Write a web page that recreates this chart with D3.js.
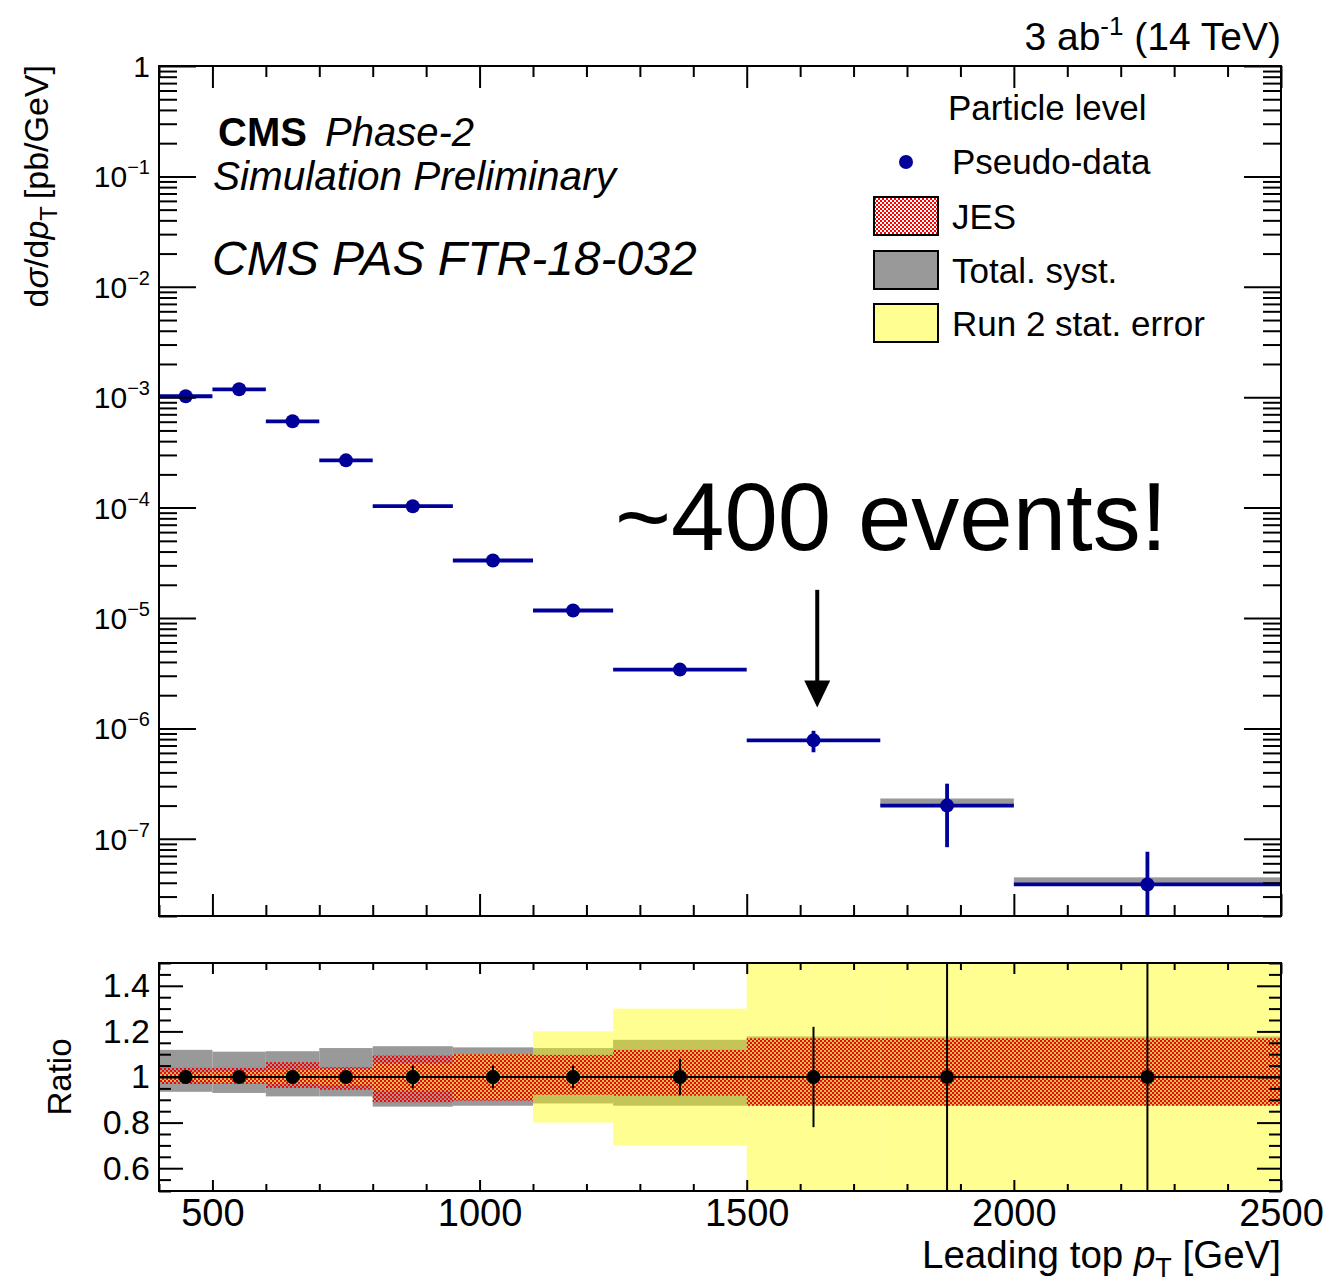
<!DOCTYPE html>
<html>
<head>
<meta charset="utf-8">
<script src="https://cdn.jsdelivr.net/npm/d3@7"></script>
<style>
  body { margin: 0; background: #fff; }
  svg { display: block; }
  text { font-family: "Liberation Sans", Arial, Helvetica, sans-serif; fill: #000; }
</style>
</head>
<body>
<svg id="chart" width="1331" height="1286"></svg>
<script>
// ---- data: leading top pT spectrum, 3 ab^-1 projection ----
const binEdges = [400, 500, 600, 700, 800, 950, 1100, 1250, 1500, 1750, 2000, 2500];
// pseudo-data dsigma/dpT [pb/GeV]
const xsec = [1.02e-3, 1.18e-3, 6.05e-4, 2.68e-4, 1.03e-4, 3.32e-5, 1.17e-5, 3.41e-6, 7.8e-7, 2.0e-7, 3.86e-8];
// relative statistical uncertainty of the pseudo-data
const dataErr = [0.01, 0.012, 0.015, 0.02, 0.05, 0.05, 0.05, 0.08, 0.22, 0.58, 0.98];
// relative total systematic uncertainty (up / down)
const systUp = [0.119, 0.111, 0.113, 0.127, 0.135, 0.130, 0.127, 0.163, 0.178, 0.178, 0.178];
const systDn = [0.065, 0.070, 0.085, 0.085, 0.130, 0.126, 0.116, 0.126, 0.126, 0.126, 0.126];
// relative jet energy scale uncertainty (up / down)
const jesUp = [0.040, 0.040, 0.065, 0.043, 0.094, 0.100, 0.097, 0.119, 0.170, 0.170, 0.170];
const jesDn = [0.031, 0.030, 0.048, 0.056, 0.111, 0.104, 0.078, 0.082, 0.126, 0.126, 0.126];
// relative Run 2 statistical uncertainty
const statRun2 = [0.020, 0.025, 0.030, 0.035, 0.060, 0.100, 0.200, 0.300, 0.800, 1.200, 2.000];
// upper edge of the systematic band shown in the spectrum panel
const spectrumBandUp = [0, 0, 0, 0, 0, 0, 0, 0, 0, 0.16, 0.16];

const xMajorTicks = [500, 1000, 1500, 2000, 2500];
const ratioMajorTicks = [0.6, 0.8, 1.0, 1.2, 1.4];
const logDecades = [-7, -6, -5, -4, -3, -2, -1, 0];

const legendEntries = ["Pseudo-data", "JES", "Total. syst.", "Run 2 stat. error"];

// ---- layout ----
const L = 159, R = 1281, T1 = 66, B1 = 916, T2 = 963, B2 = 1191;
const svg = d3.select("#chart");

const x = d3.scaleLinear().domain([400, 2500]).range([L, R]);
const y = d3.scaleLog().domain([2e-8, 1]).range([B1, T1]);
const yr = d3.scaleLinear().domain([0.5, 1.5]).range([B2, T2]);

const bins = xsec.map((v, i) => ({
  lo: binEdges[i], hi: binEdges[i + 1], c: (binEdges[i] + binEdges[i + 1]) / 2,
  v, err: dataErr[i], sUp: systUp[i], sDn: systDn[i], jUp: jesUp[i], jDn: jesDn[i],
  st: statRun2[i], bUp: spectrumBandUp[i]
}));

const defs = svg.append("defs");
const pat = defs.append("pattern").attr("id", "jesPattern")
  .attr("width", 4).attr("height", 4).attr("patternUnits", "userSpaceOnUse");
pat.append("rect").attr("x", 0).attr("y", 0).attr("width", 2).attr("height", 2).attr("fill", "#ff0000");
pat.append("rect").attr("x", 2).attr("y", 2).attr("width", 2).attr("height", 2).attr("fill", "#ff0000");

defs.append("clipPath").attr("id", "clipTop").append("rect")
  .attr("x", L).attr("y", T1).attr("width", R - L).attr("height", B1 - T1);
defs.append("clipPath").attr("id", "clipRatio").append("rect")
  .attr("x", L).attr("y", T2).attr("width", R - L).attr("height", B2 - T2);

// ---- tick helper ----
function ticks(g, axis, values, size) {
  g.call(axis.tickValues(values).tickSizeInner(-size).tickSizeOuter(0).tickFormat(""));
  g.select(".domain").remove();
  g.selectAll("line").attr("stroke", "#000").attr("stroke-width", 2);
}
const xAll = d3.range(400, 2501, 100);
const xMinor = xAll.filter(v => !xMajorTicks.includes(v));

// ================= spectrum panel =================
const specPanel = svg.append("g");
const specPlot = specPanel.append("g").attr("clip-path", "url(#clipTop)");

// systematic band
specPlot.selectAll("rect.band").data(bins.filter(b => b.bUp > 0)).join("rect")
  .attr("x", b => x(b.lo)).attr("width", b => x(b.hi) - x(b.lo))
  .attr("y", b => y(b.v * (1 + b.bUp))).attr("height", b => y(b.v) - y(b.v * (1 + b.bUp)))
  .attr("fill", "#999999");

const blue = "#000099";
specPlot.selectAll("line.hbar").data(bins).join("line")
  .attr("x1", b => x(b.lo)).attr("x2", b => x(b.hi))
  .attr("y1", b => y(b.v)).attr("y2", b => y(b.v))
  .attr("stroke", blue).attr("stroke-width", 3.8);
specPlot.selectAll("line.vbar").data(bins).join("line")
  .attr("x1", b => x(b.c)).attr("x2", b => x(b.c))
  .attr("y1", b => y(b.v * (1 + b.err)))
  .attr("y2", b => (b.err >= 1 ? B1 + 5 : y(b.v * (1 - b.err))))
  .attr("stroke", blue).attr("stroke-width", 3.8);
specPlot.selectAll("circle").data(bins).join("circle")
  .attr("cx", b => x(b.c)).attr("cy", b => y(b.v)).attr("r", 7).attr("fill", blue);

// axes ticks for spectrum panel
ticks(specPanel.append("g").attr("transform", `translate(0,${B1})`), d3.axisBottom(x), xMajorTicks, 22);
ticks(specPanel.append("g").attr("transform", `translate(0,${B1})`), d3.axisBottom(x), xMinor, 11);
ticks(specPanel.append("g").attr("transform", `translate(0,${T1})`), d3.axisTop(x), xMajorTicks, 22);
ticks(specPanel.append("g").attr("transform", `translate(0,${T1})`), d3.axisTop(x), xMinor, 11);

const logMajor = logDecades.map(k => Math.pow(10, k));
const logMinor = [];
for (let k = -8; k < 0; k++) for (let m = 2; m <= 9; m++) {
  const v = m * Math.pow(10, k);
  if (v >= 2e-8 && v <= 1) logMinor.push(v);
}
ticks(specPanel.append("g").attr("transform", `translate(${L},0)`), d3.axisLeft(y), logMajor, 37);
ticks(specPanel.append("g").attr("transform", `translate(${L},0)`), d3.axisLeft(y), logMinor, 18);
ticks(specPanel.append("g").attr("transform", `translate(${R},0)`), d3.axisRight(y), logMajor, 37);
ticks(specPanel.append("g").attr("transform", `translate(${R},0)`), d3.axisRight(y), logMinor, 18);

specPanel.append("rect").attr("x", L).attr("y", T1).attr("width", R - L).attr("height", B1 - T1)
  .attr("fill", "none").attr("stroke", "#000").attr("stroke-width", 2);

// log tick labels
logDecades.forEach(k => {
  const t = specPanel.append("text").attr("x", 150).attr("y", y(Math.pow(10, k)) + 11)
    .attr("text-anchor", "end").attr("font-size", 30);
  if (k === 0) {
    t.text("1");
  } else {
    t.append("tspan").text("10");
    t.append("tspan").attr("font-size", 20).attr("dy", -13).text("\u2212" + (-k));
  }
});

// y title
const yt = specPanel.append("text").attr("transform", `translate(48,65) rotate(-90)`)
  .attr("text-anchor", "end").attr("font-size", 34);
yt.append("tspan").text("d");
yt.append("tspan").attr("font-style", "italic").text("\u03c3");
yt.append("tspan").text("/d");
yt.append("tspan").attr("font-style", "italic").text("p");
yt.append("tspan").attr("font-size", 24).attr("dy", 9).text("T");
yt.append("tspan").attr("dy", -9).text("\u2009[pb/GeV]");

// luminosity label
const lumi = svg.append("text").attr("x", R).attr("y", 50).attr("text-anchor", "end").attr("font-size", 39);
lumi.append("tspan").text("3 ab");
lumi.append("tspan").attr("font-size", 26).attr("dy", -15).text("-1");
lumi.append("tspan").attr("dy", 15).text(" (14 TeV)");

// experiment labels
svg.append("text").attr("x", 218).attr("y", 146).attr("font-size", 40).attr("font-weight", "bold").text("CMS");
svg.append("text").attr("x", 325).attr("y", 146).attr("font-size", 40).attr("font-style", "italic").text("Phase-2");
svg.append("text").attr("x", 213).attr("y", 190).attr("font-size", 40.5).attr("font-style", "italic").text("Simulation Preliminary");
svg.append("text").attr("x", 212).attr("y", 275).attr("font-size", 48).attr("font-style", "italic").text("CMS PAS FTR-18-032");

// legend
const lg = svg.append("g");
lg.append("text").attr("x", 948).attr("y", 120).attr("font-size", 35).text("Particle level");
lg.append("circle").attr("cx", 906).attr("cy", 162).attr("r", 7).attr("fill", blue);
lg.append("text").attr("x", 952).attr("y", 174).attr("font-size", 35).text(legendEntries[0]);
const boxFills = [null, "#999999", "#ffff91"];
[197, 251, 304].forEach((by, i) => {
  if (i === 0) {
    lg.append("rect").attr("x", 874).attr("y", by).attr("width", 64).attr("height", 38).attr("fill", "#fff");
    lg.append("rect").attr("x", 874).attr("y", by).attr("width", 64).attr("height", 38)
      .attr("fill", "url(#jesPattern)").attr("stroke", "#000").attr("stroke-width", 2);
  } else {
    lg.append("rect").attr("x", 874).attr("y", by).attr("width", 64).attr("height", 38)
      .attr("fill", boxFills[i]).attr("stroke", "#000").attr("stroke-width", 2);
  }
  lg.append("text").attr("x", 952).attr("y", by + 32).attr("font-size", 35).text(legendEntries[i + 1]);
});

// annotation
svg.append("text").attr("x", 615).attr("y", 550).attr("font-size", 96)
  .attr("font-family", "Roboto, 'Open Sans', sans-serif").attr("font-weight", 300)
  .text("~400 events!");
const arrowX = x(1632);
svg.append("line").attr("x1", arrowX).attr("x2", arrowX).attr("y1", y(1.8e-5)).attr("y2", y(1.55e-6) - 24)
  .attr("stroke", "#000").attr("stroke-width", 4);
svg.append("path")
  .attr("d", `M${arrowX - 13},${y(1.55e-6) - 27} L${arrowX + 13},${y(1.55e-6) - 27} L${arrowX},${y(1.55e-6)} Z`)
  .attr("fill", "#000");

// ================= ratio panel =================
const rp = svg.append("g");
const rPlot = rp.append("g").attr("clip-path", "url(#clipRatio)");

// total systematic
rPlot.selectAll("rect.syst").data(bins).join("rect")
  .attr("x", b => x(b.lo)).attr("width", b => x(b.hi) - x(b.lo))
  .attr("y", b => yr(1 + b.sUp)).attr("height", b => yr(1 - b.sDn) - yr(1 + b.sUp))
  .attr("fill", "#999999");
// Run 2 statistical uncertainty
rPlot.selectAll("rect.stat").data(bins).join("rect")
  .attr("x", b => x(b.lo)).attr("width", b => x(b.hi) - x(b.lo))
  .attr("y", b => yr(1 + b.st)).attr("height", b => yr(1 - b.st) - yr(1 + b.st))
  .attr("fill", "#ffff00").attr("fill-opacity", 0.43);
// JES
rPlot.selectAll("rect.jes").data(bins).join("rect")
  .attr("x", b => x(b.lo)).attr("width", b => x(b.hi) - x(b.lo))
  .attr("y", b => yr(1 + b.jUp)).attr("height", b => yr(1 - b.jDn) - yr(1 + b.jUp))
  .attr("fill", "url(#jesPattern)");

// ratio points
rPlot.selectAll("line.rh").data(bins).join("line")
  .attr("x1", b => x(b.lo)).attr("x2", b => x(b.hi))
  .attr("y1", yr(1)).attr("y2", yr(1))
  .attr("stroke", "#000").attr("stroke-width", 2);
rPlot.selectAll("line.rv").data(bins).join("line")
  .attr("x1", b => x(b.c)).attr("x2", b => x(b.c))
  .attr("y1", b => yr(1 + b.err)).attr("y2", b => yr(1 - b.err))
  .attr("stroke", "#000").attr("stroke-width", 2);
rPlot.selectAll("circle").data(bins).join("circle")
  .attr("cx", b => x(b.c)).attr("cy", yr(1)).attr("r", 7).attr("fill", "#000");

const rAll = d3.range(0, 21).map(i => +(0.5 + i * 0.05).toFixed(2));
const rMinor = rAll.filter(v => !ratioMajorTicks.some(m => Math.abs(m - v) < 1e-6));
ticks(rp.append("g").attr("transform", `translate(${L},0)`), d3.axisLeft(yr), ratioMajorTicks, 24);
ticks(rp.append("g").attr("transform", `translate(${L},0)`), d3.axisLeft(yr), rMinor, 12);
ticks(rp.append("g").attr("transform", `translate(${R},0)`), d3.axisRight(yr), ratioMajorTicks, 24);
ticks(rp.append("g").attr("transform", `translate(${R},0)`), d3.axisRight(yr), rMinor, 12);
ticks(rp.append("g").attr("transform", `translate(0,${B2})`), d3.axisBottom(x), xMajorTicks, 11);
ticks(rp.append("g").attr("transform", `translate(0,${B2})`), d3.axisBottom(x), xMinor, 7);
ticks(rp.append("g").attr("transform", `translate(0,${T2})`), d3.axisTop(x), xMajorTicks, 11);
ticks(rp.append("g").attr("transform", `translate(0,${T2})`), d3.axisTop(x), xMinor, 7);

rp.append("rect").attr("x", L).attr("y", T2).attr("width", R - L).attr("height", B2 - T2)
  .attr("fill", "none").attr("stroke", "#000").attr("stroke-width", 2);

// tick labels
const xLab = rp.append("g").attr("transform", `translate(0,${B2})`)
  .call(d3.axisBottom(x).tickValues(xMajorTicks).tickSize(0).tickPadding(8).tickFormat(d3.format("d")));
xLab.select(".domain").remove();
xLab.selectAll("text").attr("font-size", 38).attr("font-family", null);

const yLab = rp.append("g").attr("transform", `translate(${L},0)`)
  .call(d3.axisLeft(yr).tickValues(ratioMajorTicks).tickSize(0).tickPadding(9)
    .tickFormat(d => (Math.abs(d - 1) < 1e-9 ? "1" : d3.format(".1f")(d))));
yLab.select(".domain").remove();
yLab.selectAll("text").attr("font-size", 34).attr("font-family", null);

// axis titles
rp.append("text").attr("transform", `translate(71,${yr(1)}) rotate(-90)`)
  .attr("text-anchor", "middle").attr("font-size", 33).text("Ratio");
const xt = rp.append("text").attr("x", R).attr("y", 1268).attr("text-anchor", "end").attr("font-size", 38.5);
xt.append("tspan").text("Leading top ");
xt.append("tspan").attr("font-style", "italic").text("p");
xt.append("tspan").attr("font-size", 27).attr("dy", 9).text("T");
xt.append("tspan").attr("dy", -9).text(" [GeV]");
</script>
</body>
</html>
